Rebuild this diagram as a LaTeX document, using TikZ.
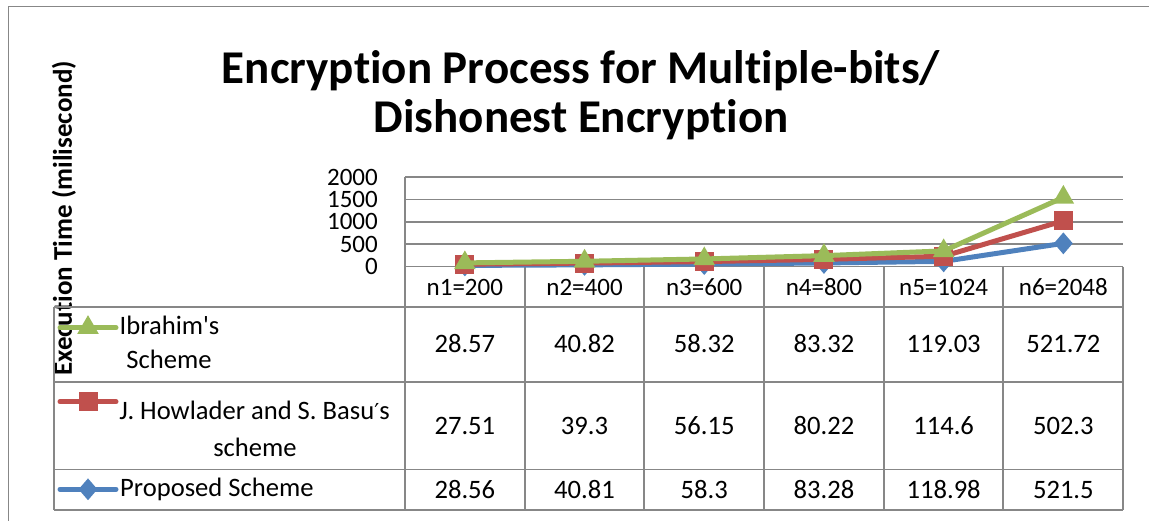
\documentclass[tikz,border=0pt]{standalone}
\usepackage{fontspec}
\setmainfont{Carlito}[Ligatures=NoCommon]
\newfontfamily\primefont{DejaVu Sans}
\usetikzlibrary{shapes.geometric}

\definecolor{seriesblue}{HTML}{4F81BD}
\definecolor{seriesred}{HTML}{C0504D}
\definecolor{seriesgreen}{HTML}{9BBB59}
\definecolor{chartgray}{HTML}{878787}

\tikzset{
  frameline/.style={draw=chartgray, line width=1.6pt},
  gridline/.style={draw=chartgray, line width=1.6pt},
  tableline/.style={draw=chartgray, line width=1.6pt},
  cell/.style={font=\fontsize{25}{30}\selectfont, inner sep=0pt},
  bigcell/.style={font=\fontsize{26.6}{32}\selectfont, inner sep=0pt},
  serie/.style={line width=5pt, line join=round, line cap=round},
  diamondmark/.style={diamond, fill=seriesblue, minimum width=19pt, minimum height=22pt, inner sep=0pt},
  squaremark/.style={rectangle, fill=seriesred, minimum size=19pt, inner sep=0pt},
  trianglemark/.style={regular polygon, regular polygon sides=3, fill=seriesgreen, minimum size=25pt, inner sep=0pt},
}

\begin{document}
\begin{tikzpicture}[x=1pt, y=-1pt]
	\useasboundingbox (0,0) rectangle (1149,521);
	%
	%Rahmen
	\coordinate (frameBL) at (8.3,521);
	\coordinate (frameTL) at (8.3,6.7);
	\coordinate (frameTR) at (1149,6.7);
	\draw[frameline] (frameBL) -- (frameTL) -- (frameTR);
	%
	%Titel
	\node[font=\fontsize{47}{49}\selectfont\bfseries, align=center] (title) at (581,95) {Encryption Process for Multiple-bits/\\Dishonest Encryption};
	%
	%Achsentitel
	\node[font=\fontsize{27}{30}\selectfont\bfseries, rotate=90, inner sep=0pt] (ylabel) at (64,218.5) {Execution Time (milisecond)};
	%
	%Gitter und Achse
	\foreach \v in {0,500,...,2000} {
		\draw[gridline] (405,{266.7-0.0448*\v}) -- (1123,{266.7-0.0448*\v});
		\node[cell, anchor=east] (tick\v) at (378,{266.7-0.0448*\v}) {\v};
	}
	%
	%Tabelle
	\draw[tableline] (405,177) -- (405,510);
	\draw[tableline] (1123,266.7) -- (1123,510);
	\foreach \x in {525,644,764,884,1003}
		\draw[tableline] (\x,266.7) -- (\x,510);
	\foreach \y in {307,381.7,469.3,510}
		\draw[tableline] (54,\y) -- (1123,\y);
	\draw[tableline] (54,307) -- (54,510);
	%
	%Kategorien
	\foreach \i/\n in {1/n1=200, 2/n2=400, 3/n3=600, 4/n4=800, 5/n5=1024, 6/n6=2048}
		\node[cell] (cat\i) at ({405+119.7*(\i-0.5)},287.5) {\n};
	%
	%Werte
	\foreach \i/\g/\r/\b in {1/28.57/27.51/28.56, 2/40.82/39.3/40.81, 3/58.32/56.15/58.3, 4/83.32/80.22/83.28, 5/119.03/114.6/118.98, 6/521.72/502.3/521.5} {
		\node[bigcell] (valg\i) at ({405+119.7*(\i-0.5)},344) {\g};
		\node[bigcell] (valr\i) at ({405+119.7*(\i-0.5)},425.5) {\r};
		\node[bigcell] (valb\i) at ({405+119.7*(\i-0.5)},489.6) {\b};
		%
		%Datenpunkte (gestapelt)
		\coordinate (b\i) at ({405+119.7*(\i-0.5)},{266.7-0.0448*\b});
		\coordinate (r\i) at ({405+119.7*(\i-0.5)},{266.7-0.0448*(\b+\r)});
		\coordinate (g\i) at ({405+119.7*(\i-0.5)},{266.7-0.0448*(\b+\r+\g)});
	}
	%
	%Proposed Scheme
	\draw[serie, seriesblue] (b1) -- (b2) -- (b3) -- (b4) -- (b5) -- (b6);
	\foreach \i in {1,...,6}
		\node[diamondmark] (mb\i) at (b\i) {};
	%
	%Howlader / Basu
	\draw[serie, seriesred] (r1) -- (r2) -- (r3) -- (r4) -- (r5) -- (r6);
	\foreach \i in {1,...,6}
		\node[squaremark] (mr\i) at (r\i) {};
	%
	%Ibrahim
	\draw[serie, seriesgreen] (g1) -- (g2) -- (g3) -- (g4) -- (g5) -- (g6);
	\foreach \i in {1,...,6}
		\node[trianglemark] (mg\i) at (g\i) {};
	%
	%Legende Ibrahim
	\coordinate (legGa) at (60,327.7);
	\coordinate (legGb) at (116,327.7);
	\draw[serie, seriesgreen] (legGa) -- (legGb);
	\node[trianglemark] (legGm) at (88,327.7) {};
	\node[bigcell, anchor=base] (legGt) at (169.5,335) {Ibrahim\textquotesingle s};
	\node[bigcell, anchor=base] (legGu) at (169,368.3) {Scheme};
	%
	%Legende Howlader
	\coordinate (legRa) at (60,401.7);
	\coordinate (legRb) at (116,401.7);
	\draw[serie, seriesred] (legRa) -- (legRb);
	\node[squaremark] (legRm) at (88,401.7) {};
	\node[bigcell, anchor=base] (legRt) at (254.5,419) {J. Howlader and S. Basu{\primefont\fontsize{22}{26}\selectfont ′}s};
	\node[bigcell, anchor=base] (legRu) at (255,456.7) {scheme};
	%
	%Legende Proposed
	\coordinate (legBa) at (60,489.3);
	\coordinate (legBb) at (116,489.3);
	\draw[serie, seriesblue] (legBa) -- (legBb);
	\node[diamondmark] (legBm) at (88,489.3) {};
	\node[bigcell, anchor=base west] (legBt) at (120,496.7) {Proposed Scheme};
\end{tikzpicture}
\end{document}
